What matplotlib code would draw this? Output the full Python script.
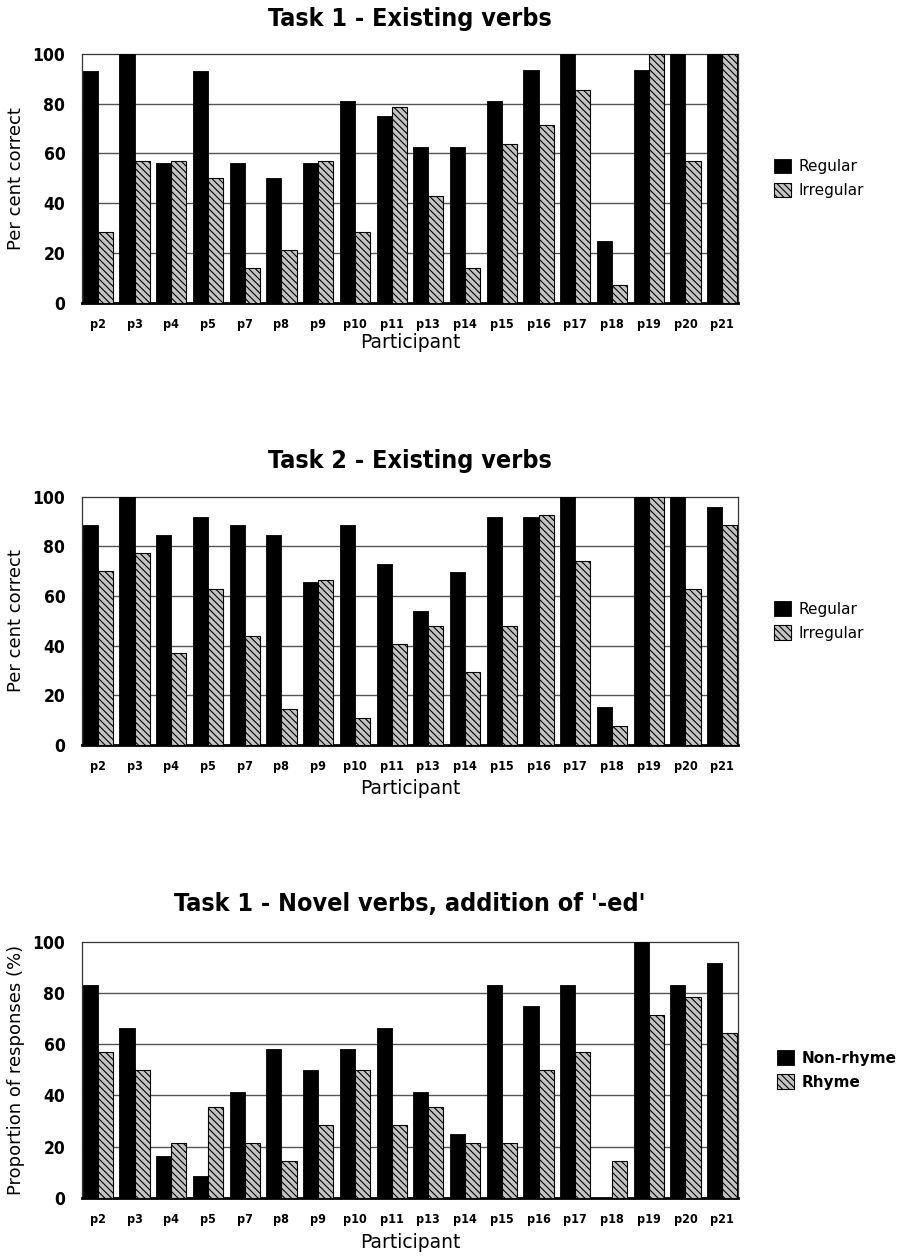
import matplotlib
matplotlib.use("Agg")
import matplotlib.pyplot as plt
from matplotlib import font_manager as fm
import numpy as np

participants = ["p2", "p3", "p4", "p5", "p7", "p8", "p9", "p10", "p11", "p13",
                "p14", "p15", "p16", "p17", "p18", "p19", "p20", "p21"]

task1_regular = [93, 100, 56, 93, 56, 50, 56, 81, 75, 62.5, 62.5, 81, 93.5, 100, 25, 93.5, 100, 100]
task1_irregular = [28.5, 57, 57, 50, 14, 21, 57, 28.5, 78.5, 43, 14, 64, 71.5, 85.5, 7, 100, 57, 100]

task2_regular = [88.5, 100, 84.5, 92, 88.5, 84.5, 65.5, 88.5, 73, 54, 69.5, 92, 92, 100, 15.5, 100, 100, 96]
task2_irregular = [70, 77.5, 37, 63, 44, 14.5, 66.5, 11, 40.5, 48, 29.5, 48, 92.5, 74, 7.5, 100, 63, 88.5]

novel_nonrhyme = [83, 66.5, 16.5, 8.5, 41.5, 58, 50, 58, 66.5, 41.5, 25, 83, 75, 83, 0, 100, 83, 91.5]
novel_rhyme = [57, 50, 21.5, 35.5, 21.5, 14.5, 28.5, 50, 28.5, 35.5, 21.5, 21.5, 50, 57, 14.5, 71.5, 78.5, 64.5]

yticks = [0, 20, 40, 60, 80, 100]

panels = [
    ("Task 1 - Existing verbs", "Per cent correct", ("Regular", "Irregular"),
     task1_regular, task1_irregular),
    ("Task 2 - Existing verbs", "Per cent correct", ("Regular", "Irregular"),
     task2_regular, task2_irregular),
    ("Task 1 - Novel verbs, addition of '-ed'", "Proportion of responses (%)", ("Non-rhyme", "Rhyme"),
     novel_nonrhyme, novel_rhyme),
]


def find_condensed_bold():
    prefs = []
    for f in fm.fontManager.ttflist:
        name = f.name
        fname = f.fname.lower()
        is_bold = (f.weight in ('bold', 700, 'heavy', 800) or 'bold' in fname)
        if not is_bold:
            continue
        score = None
        if 'Liberation Sans Narrow' in name or 'narrow' in fname and 'liberation' in fname:
            score = 0
        elif 'condensed' in fname and 'dejavusans' in fname.replace('-', '') and 'mono' not in fname:
            score = 1
        elif 'condensed' in fname and 'roboto' in fname:
            score = 2
        elif ('condensed' in fname or 'narrow' in fname) and 'mono' not in fname and 'serif' not in fname:
            score = 3
        if score is not None and 'oblique' not in fname and 'italic' not in fname:
            prefs.append((score, f.fname))
    prefs.sort()
    return prefs[0][1] if prefs else None


cond_path = find_condensed_bold()


def cond(size):
    if cond_path:
        return fm.FontProperties(fname=cond_path, size=size)
    return fm.FontProperties(family='DejaVu Sans', weight='bold', size=size)


plt.rcParams['hatch.linewidth'] = 0.8
plt.rcParams['hatch.color'] = '#2a2a2a'

W, H = 905, 1256
fig = plt.figure(figsize=(W / 100, H / 100), dpi=100)

geo = [
    dict(top=54, bottom=302.7, title=19, xlab=342, legend_bold=False, legx=774),
    dict(top=496.7, bottom=745, title=461, xlab=788, legend_bold=False, legx=774),
    dict(top=941.7, bottom=1198, title=904, xlab=1243, legend_bold=True, legx=777),
]
left_px, right_px = 82, 738

for (title, ylabel, names, s1, s2), g in zip(panels, geo):
    ax = fig.add_axes([left_px / W, 1 - g['bottom'] / H,
                       (right_px - left_px) / W, (g['bottom'] - g['top']) / H])
    x = np.arange(len(participants))
    w = 0.41
    ax.bar(x - w / 2, s1, width=w, color='black', edgecolor='black', linewidth=0.6,
           zorder=3, label=names[0])
    ax.bar(x + w / 2, s2, width=w, color='#c4c4c4', edgecolor='black', linewidth=0.8,
           hatch='\\\\\\\\\\', zorder=3, label=names[1])
    ax.set_xlim(-w - 0.02, len(participants) - 1 + w + 0.02)
    ax.set_ylim(0, 100)
    ax.set_yticks(yticks)
    ax.set_yticklabels([str(v) for v in yticks], fontproperties=cond(12.5))
    ax.set_xticks(x)
    ax.set_xticklabels(participants, fontproperties=cond(9))
    ax.tick_params(axis='both', length=0)
    ax.tick_params(axis='x', pad=11)
    ax.tick_params(axis='y', pad=12)
    for v in yticks[1:-1]:
        ax.axhline(v, color='#555555', linewidth=1.0, zorder=1)
    for side in ['top', 'right', 'left']:
        ax.spines[side].set_linewidth(0.9)
        ax.spines[side].set_color('#333333')
    ax.spines['bottom'].set_linewidth(2.0)
    ax.spines['bottom'].set_color('black')

    fig.text((left_px + right_px) / 2 / W, 1 - g['title'] / H, title,
             ha='center', va='center', fontproperties=cond(18))
    fig.text((left_px + right_px) / 2 / W, 1 - g['xlab'] / H, "Participant",
             ha='center', va='center', family=['DejaVu Sans'], fontsize=13.5, color='black')
    fig.text(16 / W, 1 - (g['top'] + g['bottom']) / 2 / H, ylabel, rotation=90,
             ha='center', va='center', family=['DejaVu Sans'], fontsize=13)

    ax.legend(loc='center left', bbox_to_anchor=((g['legx'] - left_px) / (right_px - left_px), 0.5),
              frameon=False, borderaxespad=0, borderpad=0, handlelength=1.1,
              handleheight=1.1, handletextpad=0.5, labelspacing=0.55,
              prop=dict(family='DejaVu Sans', size=11,
                        weight='bold' if g['legend_bold'] else 'normal'))

fig.savefig("out.png", dpi=100)
